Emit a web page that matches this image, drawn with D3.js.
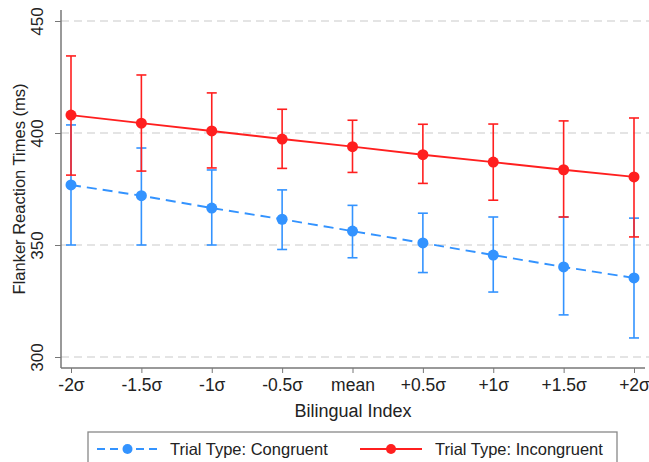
<!DOCTYPE html>
<html>
<head>
<meta charset="utf-8">
<script src="https://cdn.jsdelivr.net/npm/d3@7"></script>
<style>
  body { margin: 0; background: #fff; }
  svg text { font-family: "Liberation Sans", Arial, sans-serif; fill: #222; }
</style>
</head>
<body>
<div id="chart"></div>
<script>
// categories on the x axis
const categories = ["-2σ", "-1.5σ", "-1σ", "-0.5σ", "mean", "+0.5σ", "+1σ", "+1.5σ", "+2σ"];
const yTicks = [300, 350, 400, 450];

// congruent trials (blue, dashed)
const congruentMean = [376.8, 372.0, 366.5, 361.5, 356.2, 350.9, 345.5, 340.2, 335.3];
const congruentLow  = [350.0, 350.0, 350.0, 348.0, 344.3, 337.7, 329.0, 318.8, 308.5];
const congruentHigh = [403.6, 393.3, 383.5, 374.6, 367.7, 364.2, 362.5, 362.5, 362.0];

// incongruent trials (red, solid)
const incongruentMean = [408.0, 404.4, 400.9, 397.3, 393.9, 390.3, 387.0, 383.6, 380.4];
const incongruentLow  = [381.2, 383.0, 384.4, 384.2, 382.4, 377.5, 370.0, 362.5, 353.6];
const incongruentHigh = [434.4, 425.9, 417.9, 410.6, 405.7, 403.9, 404.0, 405.4, 406.7];

const width = 649, height = 462;
const plotLeft = 61, plotRight = 645, plotTop = 10, plotBottom = 368;

const svg = d3.select("#chart").append("svg")
  .attr("width", width)
  .attr("height", height);

const x = d3.scalePoint().domain(categories).range([71, 634]);
const y = d3.scaleLinear().domain([300, 450]).range([357, 21]);

// grid lines
svg.append("g")
  .selectAll("line")
  .data(yTicks)
  .enter()
  .append("line")
  .attr("x1", plotLeft)
  .attr("x2", width)
  .attr("y1", d => y(d))
  .attr("y2", d => y(d))
  .attr("stroke", "#dcdcdc")
  .attr("stroke-width", 1.3)
  .attr("stroke-dasharray", "8,5");

// y axis
const yAxis = svg.append("g")
  .attr("transform", "translate(" + plotLeft + ",0)")
  .call(d3.axisLeft(y).tickValues(yTicks).tickSize(6).tickPadding(10));
yAxis.select(".domain").remove();
yAxis.selectAll(".tick line").attr("stroke", "#777");
yAxis.selectAll(".tick text")
  .attr("transform", "rotate(-90)")
  .attr("x", 0)
  .attr("y", -18)
  .attr("dy", 0)
  .style("text-anchor", "middle")
  .style("font-size", "17px")
  .style("fill", "#222");
svg.append("line")
  .attr("x1", plotLeft).attr("x2", plotLeft)
  .attr("y1", plotTop).attr("y2", plotBottom)
  .attr("stroke", "#777").attr("stroke-width", 1.5);

// x axis
const xAxis = svg.append("g")
  .attr("transform", "translate(0," + plotBottom + ")")
  .call(d3.axisBottom(x).tickSize(5).tickPadding(6));
xAxis.select(".domain").remove();
xAxis.selectAll(".tick line").attr("stroke", "#777");
xAxis.selectAll(".tick text")
  .style("font-size", "17.5px")
  .style("fill", "#222");
svg.append("line")
  .attr("x1", plotLeft).attr("x2", plotRight)
  .attr("y1", plotBottom).attr("y2", plotBottom)
  .attr("stroke", "#777").attr("stroke-width", 1.5);

// axis titles
svg.append("text")
  .text("Bilingual Index")
  .attr("x", 353)
  .attr("y", 417)
  .style("text-anchor", "middle")
  .style("font-size", "18px");

svg.append("text")
  .text("Flanker Reaction Times (ms)")
  .attr("transform", "translate(25," + (plotTop + plotBottom) / 2 + ") rotate(-90)")
  .style("text-anchor", "middle")
  .style("font-size", "16.5px");

const series = [
  { name: "Trial Type: Congruent", color: "#3393ff", dash: "10,6", mean: congruentMean, low: congruentLow, high: congruentHigh },
  { name: "Trial Type: Incongruent", color: "#ff1f1f", dash: null, mean: incongruentMean, low: incongruentLow, high: incongruentHigh }
];

const line = d3.line()
  .x((d, i) => x(categories[i]))
  .y(d => y(d));

series.forEach(s => {
  const g = svg.append("g");
  const cap = 5;
  // error bars
  categories.forEach((c, i) => {
    g.append("line")
      .attr("x1", x(c)).attr("x2", x(c))
      .attr("y1", y(s.low[i])).attr("y2", y(s.high[i]))
      .attr("stroke", s.color).attr("stroke-width", 1.6);
    [s.low[i], s.high[i]].forEach(v => {
      g.append("line")
        .attr("x1", x(c) - cap).attr("x2", x(c) + cap)
        .attr("y1", y(v)).attr("y2", y(v))
        .attr("stroke", s.color).attr("stroke-width", 1.6);
    });
  });
  // connecting line
  g.append("path")
    .datum(s.mean)
    .attr("d", line)
    .attr("fill", "none")
    .attr("stroke", s.color)
    .attr("stroke-width", 1.9)
    .attr("stroke-dasharray", s.dash);
  // markers
  g.selectAll("circle")
    .data(s.mean)
    .enter()
    .append("circle")
    .attr("cx", (d, i) => x(categories[i]))
    .attr("cy", d => y(d))
    .attr("r", 5.5)
    .attr("fill", s.color);
});

// legend
const legend = svg.append("g");
legend.append("rect")
  .attr("x", 88).attr("y", 432)
  .attr("width", 529).attr("height", 40)
  .attr("fill", "#fff")
  .attr("stroke", "#888")
  .attr("stroke-width", 1.3);

const legendItems = [
  { s: series[0], x0: 97, x1: 158, tx: 170 },
  { s: series[1], x0: 360, x1: 422, tx: 435 }
];
legendItems.forEach(it => {
  const ly = 449;
  legend.append("line")
    .attr("x1", it.x0).attr("x2", it.x1)
    .attr("y1", ly).attr("y2", ly)
    .attr("stroke", it.s.color)
    .attr("stroke-width", 2)
    .attr("stroke-dasharray", it.s.dash ? "8,5" : null);
  legend.append("circle")
    .attr("cx", (it.x0 + it.x1) / 2)
    .attr("cy", ly)
    .attr("r", 5)
    .attr("fill", it.s.color);
  legend.append("text")
    .text(it.s.name)
    .attr("x", it.tx)
    .attr("y", ly + 6)
    .style("font-size", "16.5px");
});
</script>
</body>
</html>
